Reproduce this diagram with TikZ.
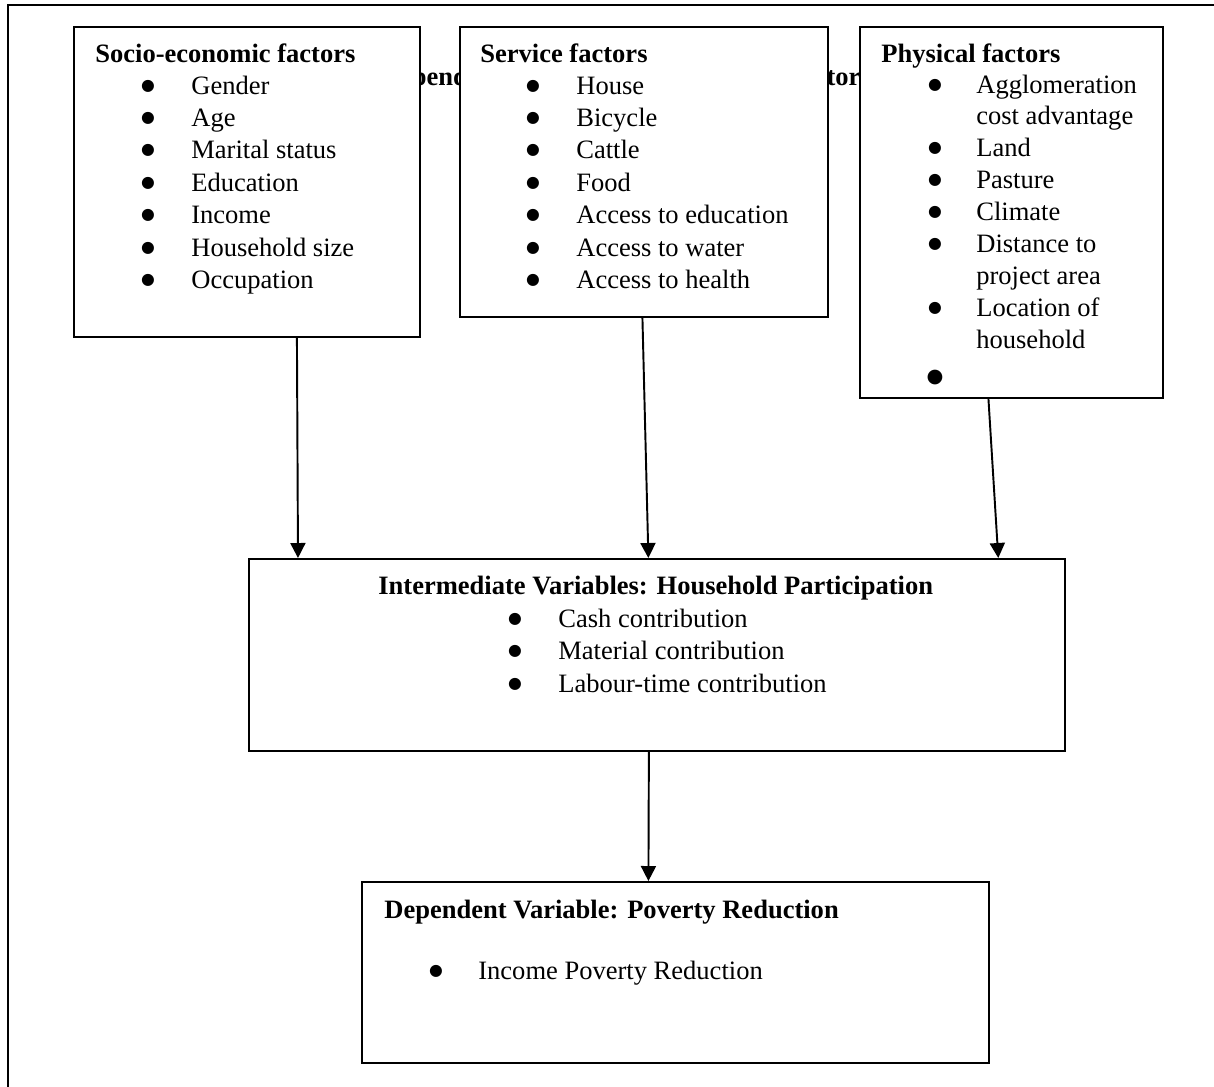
\documentclass[tikz,border=0pt]{standalone}
\usepackage{fontspec}
\setmainfont{Liberation Serif}
\newfontfamily\bulfont{DejaVu Sans}
\usepackage{tikz}
\usetikzlibrary{shapes,arrows.meta,positioning}

\tikzset{
    fbox/.style={draw, fill=white, line width=1.1pt, inner sep=0pt, anchor=north west},
    head/.style={anchor=base west, inner sep=0pt, font=\fontsize{15.1pt}{18pt}\selectfont\bfseries},
    itm/.style={anchor=base west, inner sep=0pt},
    bul/.style={inner sep=0pt, font=\bulfont\fontsize{9pt}{10pt}\selectfont},
    link/.style={line width=1.1pt, -{Triangle[length=0.3cm, width=0.3cm]}}
}

\begin{document}
\begin{tikzpicture}[x=0.02cm, y=-0.02cm, font=\fontsize{15.1pt}{18pt}\selectfont]
    \clip (0,0) rectangle (1214,1086);
    \draw[line width=1.2pt] (8,1100) -- (8,5) -- (1230,5);

    % title, mostly behind the boxes
    \node[head] (title) at (360,85) {Independent Variables: Determinant Factors};

    % boxes
    \node[fbox, minimum width=6.92cm, minimum height=6.2cm] (socio) at (73,26) {};
    \node[fbox, minimum width=7.36cm, minimum height=5.8cm] (service) at (459,26) {};
    \node[fbox, minimum width=6.06cm, minimum height=7.42cm] (physical) at (859,26) {};
    \node[fbox, minimum width=16.32cm, minimum height=3.84cm] (inter) at (248,558) {};
    \node[fbox, minimum width=12.54cm, minimum height=3.62cm] (dep) at (361,881) {};

    % socio-economic factors
    \node[head] (socioh) at (95,62) {Socio-economic factors};
    \foreach \txt [count=\i] in {Gender, Age, Marital status, Education, Income, Household size, Occupation} {
        \node[bul] (sociob\i) at (148,{86+32.4*(\i-1)}) {●};
        \node[itm] (socioi\i) at (191,{94+32.4*(\i-1)}) {\txt};
    }

    % service factors
    \node[head] (serviceh) at (480,62) {Service factors};
    \foreach \txt [count=\i] in {House, Bicycle, Cattle, Food, Access to education, Access to water, Access to health} {
        \node[bul] (serviceb\i) at (533,{86+32.4*(\i-1)}) {●};
        \node[itm] (servicei\i) at (576,{94+32.4*(\i-1)}) {\txt};
    }

    % physical factors
    \node[head] (physicalh) at (881,62) {Physical factors};
    \foreach \txt [count=\k from 0] in {Agglomeration, cost advantage, Land, Pasture, Climate, Distance to, project area, Location of, household}
        \node[itm] (physicali\k) at (976,{93+31.9*\k}) {\txt};
    \foreach \k in {0,2,3,4,5,7}
        \node[bul] (physicalb\k) at (935,{85+31.9*\k}) {●};
    \node[bul, font=\bulfont\fontsize{11pt}{12pt}\selectfont] (physicalb9) at (935,377) {●};

    % intermediate variables
    \node[head] (interh) at (378,594) {Intermediate Variables: Household Participation};
    \foreach \txt [count=\i] in {Cash contribution, Material contribution, Labour-time contribution} {
        \node[bul] (interb\i) at (515,{619+32.5*(\i-1)}) {●};
        \node[itm] (interi\i) at (558,{627+32.5*(\i-1)}) {\txt};
    }

    % dependent variable
    \node[head] (deph) at (384,918) {Dependent Variable: Poverty Reduction};
    \node[bul] (depb1) at (436,971) {●};
    \node[itm] (depi1) at (478,979) {Income Poverty Reduction};

    % arrows
    \draw[link] ([xshift=1cm]socio.south) -- ([xshift=1cm]inter.north west);
    \draw[link] ([xshift=-0.03cm]service.south) -- ([xshift=-0.17cm]inter.north);
    \draw[link] ([xshift=-0.46cm]physical.south) -- ([xshift=-1.35cm]inter.north east);
    \draw[link] ([xshift=-0.16cm]inter.south) -- ([xshift=-0.54cm]dep.north);
\end{tikzpicture}
\end{document}
